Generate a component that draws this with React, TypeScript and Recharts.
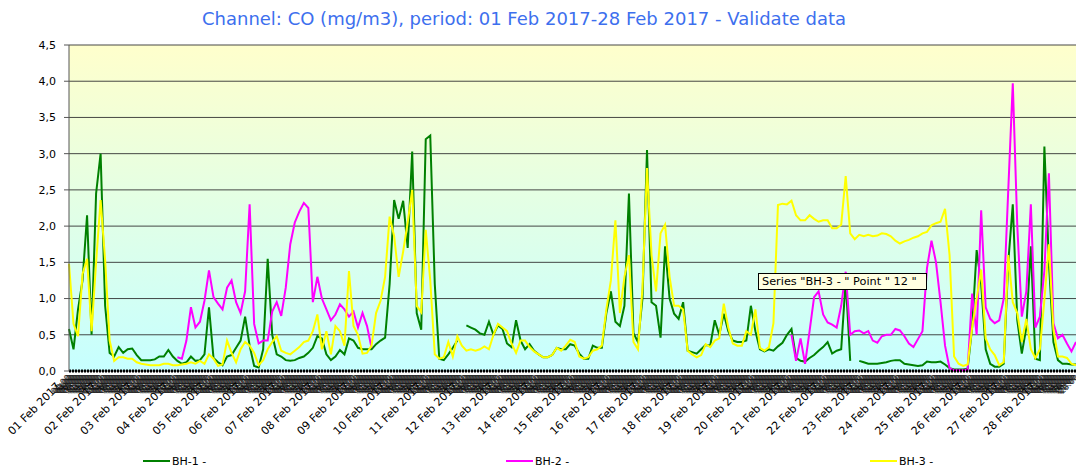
import React from 'react';
import { LineChart, Line, XAxis, YAxis, CartesianGrid } from 'recharts';

const _ = null;

const days = [
  '01 Feb 2017', '02 Feb 2017', '03 Feb 2017', '04 Feb 2017', '05 Feb 2017', '06 Feb 2017', '07 Feb 2017',
  '08 Feb 2017', '09 Feb 2017', '10 Feb 2017', '11 Feb 2017', '12 Feb 2017', '13 Feb 2017', '14 Feb 2017',
  '15 Feb 2017', '16 Feb 2017', '17 Feb 2017', '18 Feb 2017', '19 Feb 2017', '20 Feb 2017', '21 Feb 2017',
  '22 Feb 2017', '23 Feb 2017', '24 Feb 2017', '25 Feb 2017', '26 Feb 2017', '27 Feb 2017', '28 Feb 2017',
];
const hours = ['00:00', '03:00', '06:00', '09:00', '12:00', '15:00', '18:00', '21:00'];

// one row per day, 3-hourly readings
const bh1 = [
  0.58, 0.3, 0.85, 1.25, 2.15, 0.5, 2.45, 3.0,
  0.9, 0.25, 0.2, 0.33, 0.25, 0.3, 0.31, 0.22,
  0.15, 0.15, 0.15, 0.16, 0.2, 0.2, 0.29, 0.2,
  0.14, 0.1, 0.12, 0.2, 0.14, 0.15, 0.23, 0.88,
  0.18, 0.12, 0.08, 0.2, 0.22, 0.32, 0.42, 0.75,
  0.35, 0.07, 0.05, 0.3, 1.55, 0.5, 0.23, 0.2,
  0.15, 0.14, 0.15, 0.18, 0.2, 0.25, 0.32, 0.48,
  0.45, 0.23, 0.15, 0.2, 0.29, 0.23, 0.45, 0.42,
  0.32, 0.3, 0.3, 0.3, 0.37, 0.42, 0.46, 1.2,
  2.36, 2.1, 2.35, 1.7, 3.03, 0.8, 0.57, 3.2,
  3.25, 1.2, 0.17, 0.15, 0.23, 0.32, 0.42, _,
  0.63, 0.6, 0.57, 0.52, 0.5, 0.68, 0.5, 0.63,
  0.58, 0.38, 0.33, 0.7, 0.42, 0.3, 0.37, 0.28,
  0.23, 0.19, 0.19, 0.22, 0.32, 0.3, 0.3, 0.37,
  0.35, 0.24, 0.17, 0.17, 0.35, 0.32, 0.32, 0.8,
  1.1, 0.68, 0.62, 0.9, 2.45, 0.52, 0.4, 1.0,
  3.05, 0.95, 0.9, 0.46, 1.72, 1.0, 0.79, 0.72,
  0.95, 0.28, 0.26, 0.24, 0.3, 0.36, 0.35, 0.7,
  0.5, 0.79, 0.55, 0.42, 0.4, 0.4, 0.42, 0.9,
  0.55, 0.3, 0.27, 0.3, 0.28, 0.34, 0.39, 0.5,
  0.58, 0.18, 0.14, 0.13, 0.18, 0.22, 0.28, 0.33,
  0.4, 0.24, 0.28, 0.3, 1.25, 0.14, _, 0.14,
  0.12, 0.1, 0.1, 0.1, 0.11, 0.12, 0.14, 0.15,
  0.15, 0.1, 0.09, 0.08, 0.07, 0.08, 0.13, 0.12,
  0.12, 0.13, 0.09, 0.04, 0.02, 0.02, 0.02, 0.03,
  0.6, 1.67, 1.2, 0.3, 0.1, 0.06, 0.06, 0.1,
  1.5, 2.3, 0.7, 0.24, 0.6, 1.72, 0.17, 0.15,
  3.1, 1.5, 0.4, 0.15, 0.1, 0.1, 0.09, 0.09,
];

const bh2 = [
  _, _, _, _, _, _, _, _,
  _, _, _, _, _, _, _, _,
  _, _, _, _, _, _, _, _,
  0.19, 0.17, 0.42, 0.88, 0.6, 0.68, 0.97, 1.39,
  1.02, 0.93, 0.85, 1.15, 1.25, 0.95, 0.8, 1.1,
  2.3, 0.65, 0.38, 0.42, 0.42, 0.82, 0.95, 0.76,
  1.15, 1.75, 2.05, 2.2, 2.32, 2.25, 0.95, 1.3,
  1.0, 0.85, 0.7, 0.78, 0.92, 0.85, 0.75, 0.82,
  0.6, 0.8, 0.62, 0.32, _, _, _, _,
  _, _, _, _, _, _, _, _,
  _, _, _, _, _, _, _, _,
  _, _, _, _, _, _, _, _,
  _, _, _, _, _, _, _, _,
  _, _, _, _, _, _, _, _,
  _, _, _, _, _, _, _, _,
  _, _, _, _, _, _, _, _,
  _, _, _, _, _, _, _, _,
  _, _, _, _, _, _, _, _,
  _, _, _, _, _, _, _, _,
  _, _, _, _, _, _, _, _,
  0.5, 0.14, 0.45, 0.1, 0.55, 1.02, 1.1, 0.78,
  0.67, 0.64, 0.6, 0.9, 1.37, 0.5, 0.55, 0.56,
  0.52, 0.55, 0.42, 0.39, 0.48, 0.5, 0.5, 0.58,
  0.56, 0.48, 0.38, 0.33, 0.44, 0.55, 1.42, 1.8,
  1.5, 0.95, 0.35, 0.04, 0.01, 0.01, 0.01, 0.02,
  1.07, 0.5, 2.22, 0.88, 0.72, 0.66, 0.7, 1.0,
  2.5, 3.97, 2.0, 0.75, 1.1, 2.3, 0.6, 0.75,
  1.39, 2.73, 0.66, 0.45, 0.5, 0.38, 0.27, 0.4,
];

const bh3 = [
  1.48, 0.65, 0.48, 1.34, 1.55, 0.55, 1.5, 2.36,
  1.53, 0.42, 0.14, 0.19, 0.19, 0.17, 0.17, 0.12,
  0.1, 0.09, 0.08, 0.08, 0.08, 0.1, 0.1, 0.08,
  0.08, 0.09, 0.1, 0.12, 0.1, 0.14, 0.1, 0.23,
  0.17, 0.07, 0.09, 0.42, 0.25, 0.12, 0.3, 0.4,
  0.35, 0.25, 0.08, 0.15, 0.3, 0.4, 0.48, 0.28,
  0.25, 0.23, 0.28, 0.33, 0.4, 0.42, 0.55, 0.78,
  0.3, 0.55, 0.23, 0.62, 0.55, 0.35, 1.38, 0.62,
  0.5, 0.24, 0.25, 0.35, 0.8, 0.97, 1.3, 2.13,
  1.86, 1.3, 1.65, 2.05, 2.5, 0.9, 0.81, 1.95,
  1.25, 0.23, 0.17, 0.19, 0.4, 0.2, 0.48, 0.35,
  0.28, 0.3, 0.28, 0.3, 0.34, 0.3, 0.5, 0.65,
  0.6, 0.55, 0.38, 0.25, 0.42, 0.42, 0.33, 0.27,
  0.23, 0.19, 0.19, 0.22, 0.32, 0.28, 0.35, 0.43,
  0.4, 0.2, 0.17, 0.19, 0.28, 0.3, 0.35, 0.85,
  1.25, 2.08, 0.8, 1.3, 1.6, 0.4, 0.3, 1.15,
  2.8, 1.6, 1.1, 1.9, 2.02, 1.3, 0.9, 0.9,
  0.85, 0.28, 0.23, 0.19, 0.22, 0.37, 0.33, 0.42,
  0.45, 0.93, 0.6, 0.38, 0.35, 0.35, 0.55, 0.5,
  0.85, 0.32, 0.28, 0.33, 0.66, 2.29, 2.31, 2.3,
  2.35, 2.15, 2.08, 2.08, 2.15, 2.1, 2.06, 2.08,
  2.08, 1.97, 1.97, 2.02, 2.69, 1.9, 1.82, 1.88,
  1.86, 1.88, 1.86, 1.87, 1.9, 1.89, 1.86, 1.8,
  1.76, 1.79, 1.81, 1.84, 1.86, 1.9, 1.92, 2.01,
  2.04, 2.06, 2.24, 1.6, 0.2, 0.1, 0.07, 0.09,
  0.6, 1.0, 1.4, 0.45, 0.3, 0.22, 0.08, 0.12,
  1.6, 0.95, 0.8, 0.4, 0.72, 0.3, 0.18, 0.3,
  0.98, 1.75, 0.57, 0.2, 0.2, 0.18, 0.1, 0.08,
];

const yTicks = [0, 0.5, 1, 1.5, 2, 2.5, 3, 3.5, 4, 4.5];

const series = [
  { key: 'bh1', name: 'BH-1 -', color: '#008000', legendX: 143 },
  { key: 'bh2', name: 'BH-2 -', color: '#FF00FF', legendX: 506 },
  { key: 'bh3', name: 'BH-3 -', color: '#FFFF00', legendX: 870 },
];

const data = days.flatMap((day, d) =>
  hours.map((h, k) => {
    const i = d * 8 + k;
    return { time: `${day} ${h}`, bh1: bh1[i], bh2: bh2[i], bh3: bh3[i] };
  })
);

const FONT = '"DejaVu Sans", Verdana, sans-serif';

// every hour gets a tiny label (they pile up into the dark band), midnight gets the date
const HourTick = (props: any) => {
  const { x, y, payload } = props;
  const parts = String(payload.value).split(' ');
  const hour = parseInt(parts[3], 10);
  const out: React.ReactNode[] = [];
  for (let j = 0; j < 3; j++) {
    const hr = hour + j;
    if (hr === 0) continue;
    const px = x + j * 1.5;
    const py = y + 7;
    out.push(
      <text key={j} x={px} y={py} textAnchor="end" fontSize={8} fill="#111" fontFamily={FONT}
        transform={`rotate(-45 ${px} ${py})`}>
        {String(hr).padStart(2, '0')}:00
      </text>
    );
  }
  if (hour === 0) {
    const px = x - 8;
    const py = y + 16;
    out.push(
      <text key="d" x={px} y={py} textAnchor="end" fontSize={11} fill="#000" fontFamily={FONT}
        transform={`rotate(-45 ${px} ${py})`}>
        {`${parts[0]} ${parts[1]} ${parts[2]}`}
      </text>
    );
  }
  return <g>{out}</g>;
};

export default function App() {
  return (
    <div style={{ position: 'absolute', left: 0, top: 0, width: 1076, height: 466, background: '#fff', fontFamily: FONT, overflow: 'hidden' }}>
      <div style={{ position: 'absolute', left: 69, top: 45, width: 1007, height: 326, background: 'linear-gradient(#FFFFCC, #C6FFFF)' }} />
      <div style={{ position: 'absolute', left: 0, top: 8, width: 1048, textAlign: 'center', color: '#3d6fee', fontSize: 18, whiteSpace: 'nowrap' }}>
        Channel: CO (mg/m3), period: 01 Feb 2017-28 Feb 2017 - Validate data
      </div>
      <div style={{ position: 'absolute', left: 0, top: 0 }}>
        <LineChart width={1076} height={466} data={data} margin={{ top: 45, right: 0, left: 0, bottom: 0 }}>
          <CartesianGrid vertical={false} stroke="#333" strokeOpacity={0.9} />
          <XAxis
            dataKey="time"
            interval={0}
            height={95}
            tickSize={0}
            tickMargin={0}
            tickLine={false}
            axisLine={{ stroke: '#000', strokeWidth: 3, strokeDasharray: '2 1' }}
            tick={(p: any) => <HourTick {...p} />}
          />
          <YAxis
            width={69}
            domain={[0, 4.5]}
            ticks={yTicks}
            interval={0}
            tickSize={5}
            tickMargin={8}
            axisLine={{ stroke: '#555' }}
            tickLine={{ stroke: '#555' }}
            tick={{ fill: '#000', fontSize: 11, fontFamily: FONT }}
            tickFormatter={(v: number) => v.toFixed(1).replace('.', ',')}
          />
          {series.map((s) => (
            <Line
              key={s.key}
              type="linear"
              dataKey={s.key}
              name={s.name}
              stroke={s.color}
              strokeWidth={2}
              dot={false}
              activeDot={false}
              connectNulls={false}
              isAnimationActive={false}
            />
          ))}
        </LineChart>
      </div>
      <div style={{
        position: 'absolute', left: 758, top: 273, width: 164, height: 15, background: '#FFFFE1',
        border: '1px solid #000', fontSize: 11.3, lineHeight: '15px', paddingLeft: 3, color: '#000', whiteSpace: 'nowrap', boxSizing: 'content-box',
      }}>
        Series "BH-3 - " Point " 12 "
      </div>
      {series.map((s) => (
        <div key={s.key} style={{ position: 'absolute', left: s.legendX, top: 454, height: 14, display: 'flex', alignItems: 'center', fontSize: 11, color: '#000' }}>
          <span style={{ display: 'inline-block', width: 27, height: 2, background: s.color, marginRight: 2 }} />
          <span>{s.name}</span>
        </div>
      ))}
    </div>
  );
}
